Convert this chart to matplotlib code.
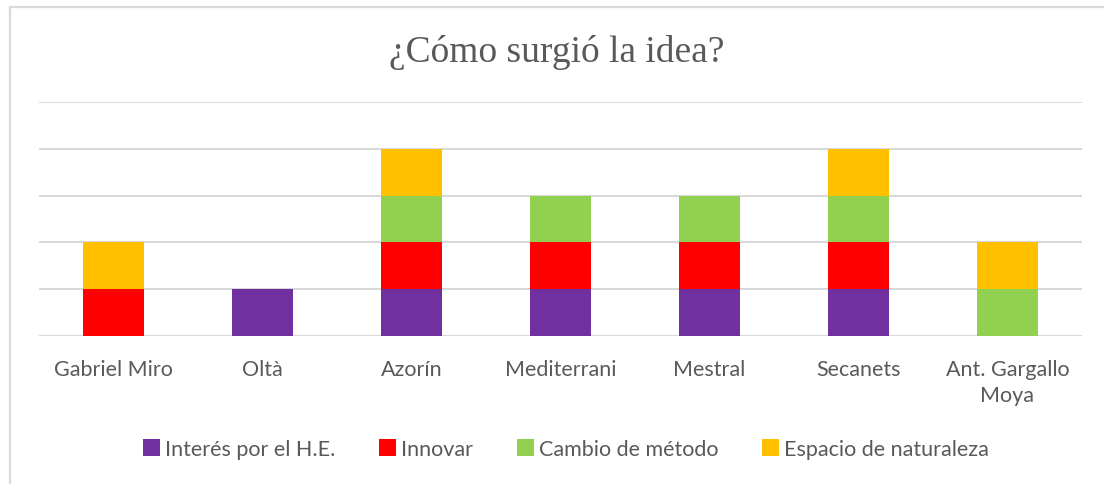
import numpy as np
import matplotlib.pyplot as plt
from matplotlib.patches import Rectangle

categories = ["Gabriel Miro", "Oltà", "Azorín", "Mediterrani", "Mestral",
              "Secanets", "Ant. Gargallo\nMoya"]
series_names = ["Interés por el H.E.", "Innovar", "Cambio de método",
                "Espacio de naturaleza"]
interes = [0, 1, 1, 1, 1, 1, 0]
innovar = [1, 0, 1, 1, 1, 1, 0]
cambio = [0, 0, 1, 1, 1, 1, 1]
espacio = [1, 0, 1, 0, 0, 1, 1]
colors = ["#7030A0", "#FF0000", "#92D050", "#FFC000"]

W, H = 1104, 485
fig = plt.figure(figsize=(W / 100, H / 100), dpi=100)
fig.patch.set_facecolor("white")

# outer chart frame (only top and left visible in the reference crop)
fig.patches.append(Rectangle((9.5 / W, -0.1), 1.2, 1 - 7.5 / H + 0.1,
                             transform=fig.transFigure, fill=False,
                             edgecolor="#D9D9D9", linewidth=1.6))

ax = fig.add_axes([39 / W, 1 - 337 / H, (1082 - 39) / W, (337 - 103) / H])
x = np.arange(len(categories))
bottom = np.zeros(len(categories))
for name, vals, c in zip(series_names, [interes, innovar, cambio, espacio], colors):
    ax.bar(x, vals, width=0.41, bottom=bottom, color=c, label=name, zorder=3)
    bottom += np.array(vals)

ax.set_xlim(-0.5, len(categories) - 0.5)
ax.set_ylim(0, 5)
ax.set_yticks(np.arange(0, 6))
ax.yaxis.grid(True, color="#D9D9D9", linewidth=1.5, zorder=0)
ax.tick_params(axis="y", left=False, labelleft=False)
ax.tick_params(axis="x", bottom=False, labelsize=15.5, labelcolor="#595959", pad=13)
ax.set_xticks(x)
ax.set_xticklabels(categories, fontfamily="Lato", linespacing=1.4)
for s in ax.spines.values():
    s.set_visible(False)

fig.text(557 / W, 1 - 53 / H, "¿Cómo surgió la idea?", ha="center", va="center",
         fontsize=27, fontfamily="Liberation Serif", color="#595959")

fig.legend(loc="center", bbox_to_anchor=(566 / W, 1 - 450 / H), ncol=4,
           frameon=False, prop={"family": "Lato", "size": 15.5},
           labelcolor="#595959", handlelength=0.8, handleheight=0.8,
           handletextpad=0.25, columnspacing=2.0)

fig.savefig("out.png", dpi=100)
